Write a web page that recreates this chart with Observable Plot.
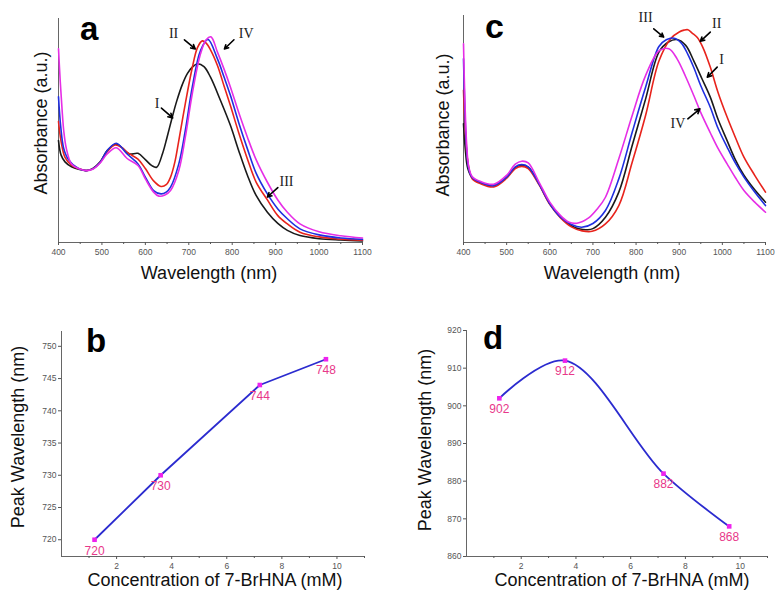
<!DOCTYPE html>
<html><head><meta charset="utf-8">
<script src="https://cdn.jsdelivr.net/npm/d3@7"></script>
<script src="https://cdn.jsdelivr.net/npm/@observablehq/plot@0.6"></script>
<style>
body{margin:0;background:#fff;}
#fig{position:relative;width:779px;height:593px;overflow:hidden;font-family:"Liberation Sans",Arial,sans-serif;}
#fig > svg{position:absolute;overflow:visible;}
</style></head><body><div id="fig"></div>
<script>
// ---------- shared ----------
const seriesNames = ["I", "II", "III", "IV"];
const seriesColors = ["#1a1a1a", "#e8231c", "#1f2fe0", "#e62ee6"];
const wlTicks = [400, 500, 600, 700, 800, 900, 1000, 1100];
const wlMinor = [450, 550, 650, 750, 850, 950, 1050];

// ---------- panel a : absorbance spectra ----------
const aWl_I  = [400,406,415,430,446,464,480,496,512,533,548,563,583,600,615,626,640,650,662,672,685,697,708,720,735,750,773,796,815,835,855,881,905,927,956,1000,1050,1100];
const aAbs_I = [0.455,0.39,0.36,0.338,0.327,0.321,0.332,0.36,0.41,0.44,0.42,0.395,0.398,0.37,0.343,0.336,0.40,0.47,0.56,0.63,0.705,0.755,0.783,0.798,0.785,0.738,0.634,0.522,0.41,0.30,0.21,0.135,0.085,0.054,0.031,0.017,0.011,0.007];
const aWl_II  = [400,406,415,430,446,464,480,496,512,530,545,560,583,600,619,636,648,658,668,677,692,708,720,731,740,750,766,781,796,815,835,855,881,905,927,956,1000,1050,1100];
const aAbs_II = [0.54,0.45,0.38,0.345,0.33,0.321,0.33,0.358,0.405,0.435,0.425,0.40,0.372,0.33,0.275,0.25,0.258,0.292,0.36,0.455,0.62,0.78,0.87,0.90,0.89,0.86,0.79,0.70,0.61,0.49,0.373,0.27,0.19,0.12,0.083,0.046,0.025,0.015,0.01];
const aWl_III  = [400,405,412,423,446,464,480,496,512,533,558,583,600,619,636,648,658,677,692,708,727,744,766,781,796,815,835,855,881,905,927,956,1000,1050,1100];
const aAbs_III = [0.65,0.52,0.42,0.37,0.33,0.321,0.33,0.358,0.41,0.443,0.395,0.351,0.292,0.232,0.217,0.225,0.247,0.351,0.50,0.693,0.857,0.907,0.82,0.74,0.656,0.535,0.418,0.31,0.217,0.15,0.106,0.061,0.034,0.02,0.014];
const aWl_IV  = [400,404,408,412,418,430,446,464,480,496,512,533,558,583,600,619,631,645,658,677,692,708,727,740,751,766,781,796,815,835,855,881,905,927,956,1000,1050,1100];
const aAbs_IV = [0.865,0.72,0.60,0.50,0.42,0.35,0.33,0.321,0.328,0.355,0.395,0.423,0.375,0.344,0.284,0.225,0.207,0.212,0.232,0.321,0.47,0.664,0.842,0.905,0.918,0.85,0.775,0.693,0.58,0.47,0.37,0.269,0.19,0.135,0.083,0.048,0.03,0.02];

const aLabelText = ["II", "IV", "I", "III"];
const aLabelWl   = [665, 832, 627, 925];
const aLabelAbs  = [0.935, 0.935, 0.62, 0.272];
const aArrowWl1  = [690, 804, 637, 905];
const aArrowAbs1 = [0.905, 0.905, 0.60, 0.245];
const aArrowWl2  = [715, 782, 663, 881];
const aArrowAbs2 = [0.864, 0.864, 0.556, 0.203];

// ---------- panel c : absorbance spectra ----------
const cWl_I  = [400,404,410,420,440,470,500,520,535,550,575,600,625,650,670,686,700,729,760,791,822,853,875,895,915,934,953,972,990,1011,1030,1050,1075,1100];
const cAbs_I = [0.53,0.42,0.33,0.29,0.268,0.254,0.29,0.335,0.344,0.336,0.262,0.173,0.113,0.075,0.06,0.057,0.062,0.113,0.225,0.433,0.64,0.85,0.895,0.906,0.88,0.81,0.73,0.649,0.55,0.455,0.37,0.30,0.235,0.18];
const cWl_II  = [400,404,410,420,440,470,500,520,535,550,575,600,625,650,675,698,729,760,791,822,853,880,900,911,920,930,942,955,972,990,1011,1030,1050,1075,1100];
const cAbs_II = [0.68,0.50,0.36,0.285,0.262,0.248,0.287,0.33,0.34,0.33,0.258,0.17,0.11,0.07,0.052,0.05,0.083,0.165,0.358,0.567,0.81,0.91,0.94,0.948,0.95,0.935,0.915,0.87,0.783,0.67,0.56,0.47,0.381,0.30,0.225];
const cWl_III  = [400,403,407,412,420,440,470,500,520,535,550,575,600,625,650,674,700,729,760,791,822,853,870,888,905,920,934,950,972,990,1011,1030,1050,1075,1100];
const cAbs_III = [0.82,0.60,0.42,0.33,0.29,0.268,0.254,0.292,0.338,0.348,0.338,0.262,0.173,0.113,0.08,0.068,0.085,0.143,0.284,0.492,0.693,0.875,0.905,0.912,0.89,0.84,0.78,0.70,0.604,0.51,0.426,0.355,0.292,0.225,0.165];
const cWl_IV  = [400,403,407,412,420,440,470,500,520,535,550,575,600,625,645,663,690,710,729,760,791,822,853,876,895,915,934,950,972,990,1011,1030,1050,1075,1100];
const cAbs_IV = [0.887,0.65,0.45,0.34,0.295,0.272,0.26,0.30,0.35,0.363,0.355,0.27,0.18,0.12,0.09,0.086,0.11,0.15,0.202,0.374,0.567,0.745,0.855,0.865,0.82,0.74,0.655,0.58,0.49,0.42,0.351,0.29,0.232,0.18,0.135];

const cLabelText = ["III", "II", "I", "IV"];
const cLabelWl   = [822, 987, 998, 897];
const cLabelAbs  = [1.003, 0.979, 0.815, 0.532];
const cArrowWl1  = [841, 972, 988, 920];
const cArrowAbs1 = [0.954, 0.939, 0.783, 0.552];
const cArrowWl2  = [864, 949, 965, 948];
const cArrowAbs2 = [0.917, 0.898, 0.738, 0.597];

// ---------- panels b and d : peak wavelength vs concentration ----------
const conc = [1.2, 3.6, 7.2, 9.6];
const bPeak = [720, 730, 744, 748];
const dPeak = [902, 912, 882, 868];
const concTicks = [2, 4, 6, 8, 10];
const concMinor = [1, 3, 5, 7, 9, 11];
const bTicks = [720, 725, 730, 735, 740, 745, 750];
const dTicks = [860, 870, 880, 890, 900, 910, 920];

// ---------- helpers ----------
const FONT = '"Liberation Sans", Arial, sans-serif';
const SERIF = '"Liberation Serif", "Times New Roman", serif';
const fig = d3.select("#fig");
const intFmt = d3.format("d");

function rows(wl, ab) { return wl.map((w, i) => ({wl: w, v: ab[i]})); }
function annot(t, x, y, x1, y1, x2, y2) {
  return {
    labels: t.map((s, i) => ({s, x: x[i], y: y[i]})),
    arrows: t.map((s, i) => ({x1: x1[i], y1: y1[i], x2: x2[i], y2: y2[i]}))
  };
}
function addText(svg, o) {
  const t = d3.select(svg).append("text")
    .attr("x", o.x).attr("y", o.y)
    .attr("font-family", FONT)
    .attr("font-size", o.size)
    .attr("fill", o.fill || "#111")
    .attr("text-anchor", o.anchor || "middle")
    .text(o.text);
  if (o.bold) t.attr("font-weight", "bold");
  if (o.rotate) t.attr("transform", `rotate(-90 ${o.x} ${o.y})`);
}
function place(svg, left, top) {
  svg.style.left = left + "px";
  svg.style.top = top + "px";
  fig.node().appendChild(svg);
}

function spectrum(cfg) {
  const series = [
    rows(cfg.wl[0], cfg.ab[0]), rows(cfg.wl[1], cfg.ab[1]),
    rows(cfg.wl[2], cfg.ab[2]), rows(cfg.wl[3], cfg.ab[3])
  ];
  return Plot.plot({
    width: cfg.width, height: cfg.height,
    marginLeft: cfg.mL, marginRight: cfg.mR, marginTop: cfg.mT, marginBottom: cfg.mB,
    style: {fontFamily: FONT, background: "transparent", overflow: "visible"},
    x: {domain: [400, 1100], label: null},
    y: {domain: [0, cfg.yTop], axis: null, label: null},
    marks: [
      Plot.ruleX([400], {stroke: "#666", strokeWidth: 1}),
      Plot.ruleY([0], {stroke: "#666", strokeWidth: 1}),
      Plot.axisX({ticks: wlTicks, tickSize: 3, tickPadding: 3, fontSize: 8.5, color: "#555", label: null, tickFormat: intFmt}),
      Plot.axisX({ticks: wlMinor, tickSize: 2, tickFormat: () => "", color: "#555", label: null}),
      ...series.map((s, i) => Plot.line(s, {x: "wl", y: "v", stroke: seriesColors[i], strokeWidth: 1.6, curve: "catmull-rom"})),
      Plot.arrow(cfg.ann.arrows, {x1: "x1", y1: "y1", x2: "x2", y2: "y2", stroke: "#000", strokeWidth: 1.6, headLength: 6, headAngle: 55}),
      Plot.text(cfg.ann.labels, {x: "x", y: "y", text: "s", fontFamily: SERIF, fontSize: 14, fill: "#222"})
    ]
  });
}

function peakPlot(cfg) {
  const data = conc.map((c, i) => ({c, p: cfg.peak[i]}));
  return Plot.plot({
    width: cfg.width, height: cfg.height,
    marginLeft: cfg.mL, marginRight: cfg.mR, marginTop: cfg.mT, marginBottom: cfg.mB,
    style: {fontFamily: FONT, background: "transparent", overflow: "visible"},
    x: {domain: [0, 11], label: null},
    y: {domain: cfg.yDomain, label: null},
    marks: [
      Plot.ruleX([0], {stroke: "#666", strokeWidth: 1}),
      Plot.ruleY([cfg.yDomain[0]], {stroke: "#666", strokeWidth: 1}),
      Plot.axisX({ticks: concTicks, tickSize: 3, tickPadding: 3, fontSize: 8.5, color: "#555", label: null, tickFormat: intFmt}),
      Plot.axisX({ticks: concMinor, tickSize: 2, tickFormat: () => "", color: "#555", label: null}),
      Plot.axisY({ticks: cfg.yTicks, tickSize: 3, tickPadding: 2, fontSize: 8.5, color: "#555", label: null, tickFormat: intFmt}),
      Plot.line(data, {x: "c", y: "p", stroke: "#2b2bcf", strokeWidth: 1.8, curve: cfg.curve}),
      Plot.dot(data, {x: "c", y: "p", symbol: "square", r: 2.6, fill: "#ee22ee", stroke: "none"}),
      Plot.text(data, {x: "c", y: "p", text: d => String(d.p), dy: 11, fill: "#e8388a", fontSize: 12})
    ]
  });
}

// ---------- build panels ----------
const svgA = spectrum({
  width: 390, height: 290, mL: 58, mR: 28, mT: 18, mB: 48, yTop: 1,
  wl: [aWl_I, aWl_II, aWl_III, aWl_IV], ab: [aAbs_I, aAbs_II, aAbs_III, aAbs_IV],
  ann: annot(aLabelText, aLabelWl, aLabelAbs, aArrowWl1, aArrowAbs1, aArrowWl2, aArrowAbs2)
});
addText(svgA, {x: 209, y: 279, size: 18, text: "Wavelength (nm)"});
addText(svgA, {x: 47, y: 123, size: 18, text: "Absorbance (a.u.)", rotate: true});
addText(svgA, {x: 80, y: 40, size: 33, text: "a", bold: true, anchor: "start", fill: "#000"});
place(svgA, 0, 0);

const svgC = spectrum({
  width: 389, height: 290, mL: 73, mR: 14, mT: 15, mB: 48, yTop: 1.0134,
  wl: [cWl_I, cWl_II, cWl_III, cWl_IV], ab: [cAbs_I, cAbs_II, cAbs_III, cAbs_IV],
  ann: annot(cLabelText, cLabelWl, cLabelAbs, cArrowWl1, cArrowAbs1, cArrowWl2, cArrowAbs2)
});
addText(svgC, {x: 222, y: 279, size: 18, text: "Wavelength (nm)"});
addText(svgC, {x: 58.5, y: 125, size: 18, text: "Absorbance (a.u.)", rotate: true});
addText(svgC, {x: 95, y: 38, size: 34, text: "c", bold: true, anchor: "start", fill: "#000"});
place(svgC, 390, 0);

const svgB = peakPlot({
  width: 390, height: 303, mL: 61, mR: 26, mT: 41, mB: 37,
  yDomain: [717.4, 752.3], yTicks: bTicks, peak: bPeak, curve: "linear"
});
addText(svgB, {x: 215, y: 296, size: 18, text: "Concentration of 7-BrHNA (mM)"});
addText(svgB, {x: 24, y: 147, size: 18, text: "Peak Wavelength (nm)", rotate: true});
addText(svgB, {x: 86, y: 62, size: 33, text: "b", bold: true, anchor: "start", fill: "#000"});
place(svgB, 0, 290);

const svgD = peakPlot({
  width: 389, height: 303, mL: 76, mR: 12, mT: 40, mB: 37,
  yDomain: [860, 920], yTicks: dTicks, peak: dPeak, curve: "catmull-rom"
});
addText(svgD, {x: 232, y: 296, size: 18, text: "Concentration of 7-BrHNA (mM)"});
addText(svgD, {x: 40.5, y: 150, size: 18, text: "Peak Wavelength (nm)", rotate: true});
addText(svgD, {x: 93, y: 59, size: 33, text: "d", bold: true, anchor: "start", fill: "#000"});
place(svgD, 390, 290);
</script></body></html>
